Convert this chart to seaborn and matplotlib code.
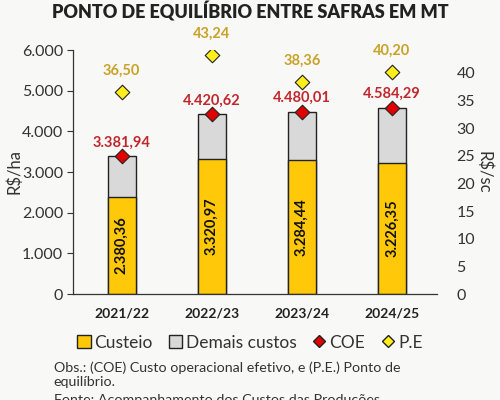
import numpy as np
import pandas as pd
import matplotlib
matplotlib.use("Agg")
import matplotlib.pyplot as plt
import seaborn as sns
from matplotlib.lines import Line2D
from matplotlib.patches import Patch

# data
safras = ["2021/22", "2022/23", "2023/24", "2024/25"]
custeio = [2380.36, 3320.97, 3284.44, 3226.35]
coe = [3381.94, 4420.62, 4480.01, 4584.29]
pe = [36.50, 43.24, 38.36, 40.20]

df = pd.DataFrame({"safra": safras, "custeio": custeio, "coe": coe, "pe": pe})


def br(v):
    s = f"{v:,.2f}"
    return s.replace(",", "X").replace(".", ",").replace("X", ".")


sns.set_style("white")
plt.rcParams["font.family"] = ["Lato", "DejaVu Sans"]
bg = "#f8f8f7"
yellow = "#ffc90a"
grey = "#d9d9d9"
red = "#e00000"
red_txt = "#c0282d"
gold_txt = "#c9a227"
dark = "#333333"

fig = plt.figure(figsize=(5, 4), dpi=100, facecolor=bg)
ax = fig.add_axes([0.146, 0.265, 0.728, 0.61])
ax.set_facecolor(bg)

# stacked bars: total (COE) in grey, custeio in yellow on top of it
sns.barplot(data=df, x="safra", y="coe", color=grey, width=0.31,
            edgecolor="#222222", linewidth=1, saturation=1, ax=ax)
sns.barplot(data=df, x="safra", y="custeio", color=yellow, width=0.31,
            edgecolor="#222222", linewidth=1, saturation=1, ax=ax)
sns.scatterplot(data=df, x="safra", y="coe", marker="D", s=55, color=red,
                edgecolor="#222222", linewidth=0.8, zorder=5, ax=ax)

for i, (c, t) in enumerate(zip(custeio, coe)):
    ax.text(i, c / 2, br(c), rotation=90, ha="center", va="center",
            fontsize=10.5, fontweight="bold", color="#111111")
    ax.text(i, t + 170, br(t), ha="center", va="bottom",
            fontsize=10.5, fontweight="bold", color=red_txt)

ax.set_ylim(0, 6000)
ax.set_xlim(-0.54, 3.5)
ax.set_yticks(range(0, 6001, 1000))
ax.set_yticklabels([br(v)[:-3] for v in range(0, 6001, 1000)])
ax.set_xlabel("")
ax.set_ylabel("R$/ha", fontsize=12, color=dark, labelpad=0)
ax.tick_params(axis="y", labelsize=11.5, colors=dark, length=4, width=0.8, direction="out", pad=3)
ax.tick_params(axis="x", labelsize=10, length=4, width=0.8, pad=6)
for lbl in ax.get_xticklabels():
    lbl.set_fontweight("bold")
    lbl.set_color("#222222")
for side in ["top", "right"]:
    ax.spines[side].set_visible(False)
for side in ["left", "bottom"]:
    ax.spines[side].set_color("#333333")
    ax.spines[side].set_linewidth(0.9)

ax2 = ax.twinx()
sns.scatterplot(data=df, x="safra", y="pe", marker="D", s=55, color="#ffee1a",
                edgecolor="#222222", linewidth=0.8, zorder=5, ax=ax2)
for i, p in enumerate(pe):
    ax2.text(i, p + 2.6, f"{p:.2f}".replace(".", ","), ha="center", va="bottom",
             fontsize=10.5, fontweight="bold", color=gold_txt)
ax2.set_ylim(0, 44.16)
ax2.set_yticks(range(0, 41, 5))
ax2.set_ylabel("R$/sc", fontsize=12, color=dark, rotation=270, labelpad=12)
ax2.tick_params(axis="y", labelsize=11.5, colors=dark, length=0, pad=14)
for side in ["top", "right", "left", "bottom"]:
    ax2.spines[side].set_visible(False)
ax2.set_xlim(-0.54, 3.5)

fig.suptitle("PONTO DE EQUILÍBRIO ENTRE SAFRAS EM MT", x=0.5, y=0.997,
             fontsize=13, fontweight="heavy", color="#222222")

handles = [
    Patch(facecolor=yellow, edgecolor="#222222", label="Custeio"),
    Patch(facecolor=grey, edgecolor="#222222", label="Demais custos"),
    Line2D([], [], marker="D", ls="", color=red, markeredgecolor="#222222", markersize=6, label="COE"),
    Line2D([], [], marker="D", ls="", color="#ffee1a", markeredgecolor="#222222", markersize=6, label="P.E"),
]
fig.legend(handles=handles, loc="center", bbox_to_anchor=(0.5, 0.143), ncol=4,
           frameon=False, fontsize=12.5, handlelength=0.8, handleheight=0.8,
           handletextpad=0.2, columnspacing=0.9, labelcolor="#333333")

fig.text(0.107, 0.063, "Obs.: (COE) Custo operacional efetivo, e (P.E.) Ponto de\nequilíbrio.",
         fontsize=10.3, color="#333333", va="center", linespacing=1.2)
fig.text(0.107, 0.0, "Fonte: Acompanhamento dos Custos das Produções",
         fontsize=10.3, color="#333333", va="center")

fig.savefig("out.png", dpi=100, facecolor=bg)
